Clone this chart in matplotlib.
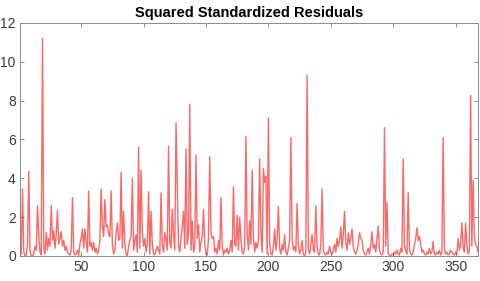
import matplotlib
matplotlib.use("Agg")
import matplotlib.pyplot as plt
import numpy as np

title = "Squared Standardized Residuals"
x_ticks = [50, 100, 150, 200, 250, 300, 350]
y_ticks = [0, 2, 4, 6, 8, 10, 12]

residuals_sq = [
    0.3, 0.1, 3.45, 0.2, 0.0, 0.05, 0.6, 4.35, 0.3, 0.0,
    0.02, 0.1, 0.5, 0.3, 2.6, 1.1, 0.2, 0.05, 11.2, 0.4,
    0.1, 1.2, 0.3, 0.9, 0.5, 2.6, 0.8, 1.3, 0.4, 1.1,
    2.37, 0.6, 0.9, 1.25, 0.5, 0.8, 0.3, 0.5, 0.2, 0.1,
    0.05, 0.3, 3.0, 0.2, 0.05, 0.1, 0.3, 0.02, 0.6, 0.9,
    1.4, 0.4, 1.4, 0.7, 0.2, 3.35, 0.5, 0.7, 0.3, 0.7,
    0.2, 0.4, 0.1, 0.3, 0.8, 3.45, 1.5, 1.0, 2.9, 1.5,
    1.6, 1.1, 1.0, 3.35, 0.6, 0.1, 0.3, 1.2, 1.7, 0.8,
    0.9, 4.3, 0.4, 2.3, 0.6, 0.1, 0.0, 0.5, 0.8, 1.0,
    4.0, 0.3, 0.8, 1.1, 0.2, 5.6, 0.4, 4.4, 1.2, 0.5,
    0.9, 0.2, 0.6, 3.3, 0.1, 2.3, 0.6, 0.1, 0.05, 0.3,
    0.5, 0.3, 0.1, 3.25, 0.6, 0.2, 1.2, 0.9, 0.3, 5.65,
    0.7, 0.4, 2.4, 1.1, 0.3, 6.85, 3.65, 0.5, 0.2, 0.9,
    1.5, 2.3, 0.4, 5.5, 0.6, 1.2, 7.8, 0.3, 1.8, 0.2,
    0.4, 5.2, 0.9, 1.6, 0.2, 0.7, 1.0, 2.4, 0.6, 0.1,
    0.05, 0.9, 5.1, 1.2, 0.9, 1.0, 0.2, 0.4, 0.1, 0.8,
    0.3, 3.0, 0.5, 0.05, 0.3, 0.2, 0.4, 0.1, 0.3, 0.8,
    0.2, 3.55, 0.6, 0.5, 2.1, 0.3, 2.0, 0.9, 0.2, 0.1,
    0.5, 6.15, 1.1, 0.3, 1.8, 0.6, 4.4, 0.9, 0.2, 0.7,
    0.4, 0.8, 5.0, 1.1, 0.2, 4.5, 3.8, 4.1, 0.1, 7.1,
    0.6, 0.1, 0.05, 0.5, 1.4, 0.3, 0.9, 2.55, 0.4, 0.1,
    0.6, 0.3, 1.1, 0.2, 0.05, 0.4, 0.8, 6.1, 0.9, 0.3,
    0.5, 0.2, 2.7, 0.6, 0.1, 0.3, 0.8, 0.1, 0.0, 0.2,
    9.3, 0.4, 0.1, 0.6, 1.1, 0.3, 0.2, 2.6, 0.5, 0.1,
    0.05, 0.6, 3.45, 0.3, 0.1, 0.05, 0.2, 0.1, 0.5, 0.2,
    0.1, 0.3, 0.6, 0.2, 0.9, 0.5, 0.8, 1.5, 0.4, 1.1,
    2.3, 0.7, 0.3, 1.2, 0.6, 0.9, 1.4, 0.5, 0.2, 0.1,
    0.3, 0.6, 1.2, 0.9, 0.8, 0.3, 0.1, 0.05, 0.2, 0.4,
    0.1, 0.6, 1.25, 0.4, 0.6, 0.2, 0.9, 1.55, 0.3, 0.1,
    0.05, 0.2, 6.6, 0.5, 2.75, 0.1, 0.05, 0.0, 0.1, 0.05,
    0.2, 0.1, 0.3, 0.1, 0.05, 0.4, 0.2, 5.0, 0.6, 0.3,
    0.1, 3.25, 0.3, 0.1, 0.05, 0.2, 0.6, 0.9, 1.45, 0.8,
    1.0, 0.6, 0.2, 0.3, 0.1, 0.05, 0.2, 0.1, 0.4, 0.1,
    0.2, 0.75, 0.1, 0.05, 0.2, 0.1, 0.3, 0.05, 0.2, 6.1,
    0.4, 0.1, 0.2, 0.05, 0.1, 0.3, 0.2, 0.1, 0.05, 0.2,
    0.1, 0.9, 0.3, 0.6, 1.7, 0.4, 0.2, 1.7, 0.6, 0.1,
    0.3, 8.25, 0.5, 3.9, 1.0, 0.6, 0.5, 0.2,
]

t = np.arange(1, len(residuals_sq) + 1)

plt.rcParams['font.family'] = ['Liberation Sans', 'DejaVu Sans']
fig = plt.figure(figsize=(4.8, 2.81), dpi=100)
ax = fig.add_axes([0.0417, 0.089, 0.9543, 0.83])
ax.plot(t, residuals_sq, color='#ff0000', alpha=0.6, lw=1.0)
ax.set_xlim(1, len(residuals_sq))
ax.set_ylim(0, 12)
ax.set_xticks(x_ticks)
ax.set_yticks(y_ticks)
ax.tick_params(direction='in', length=3, width=0.7, colors='#8c8c8c',
               labelcolor='#3c3c3c', labelsize=10, top=True, right=True,
               labeltop=False, labelright=False, pad=3)
for s in ax.spines.values():
    s.set_color('#8c8c8c')
    s.set_linewidth(0.7)
ax.set_title(title, fontsize=10.5, fontweight='bold', color='#000000', pad=4)
fig.savefig('out.png', dpi=100)
